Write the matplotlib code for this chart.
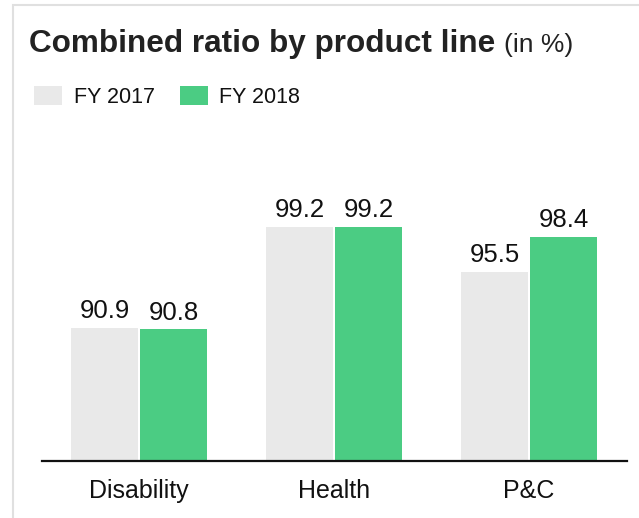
import numpy as np
import matplotlib
matplotlib.use('Agg')
import matplotlib.pyplot as plt
from matplotlib.patches import Rectangle

plt.rcParams['font.family'] = ['Liberation Sans', 'DejaVu Sans']

# data
categories = ['Disability', 'Health', 'P&C']
fy2017 = [90.9, 99.2, 95.5]
fy2018 = [90.8, 99.2, 98.4]
series_names = ['FY 2017', 'FY 2018']

gray = '#e9e9e9'
green = '#4bcc83'

W, H = 639, 518
fig = plt.figure(figsize=(W / 100, H / 100), dpi=100)

# light frame around the card (open to the right/bottom, cropped)
fig.patches.append(Rectangle((12.5 / W, -0.1), 1.2, 1 - 5.5 / H + 0.1,
                             transform=fig.transFigure, fill=False,
                             edgecolor='#e0e0e0', linewidth=1.5))

# axes placed in pixels: baseline at y=461, from x=41.5 to 626.5
ax_left, ax_right, ax_base = 41.5, 626.5, 461
px_per_unit = 12.19
ax_top = 160
ax = fig.add_axes([ax_left / W, (H - ax_base) / H,
                   (ax_right - ax_left) / W, (ax_base - ax_top) / H])
ymin = 80
ax.set_ylim(ymin, ymin + (ax_base - ax_top) / px_per_unit)
ax.set_xlim(-0.5, 2.5)

x = np.arange(len(categories))
bw = 0.345
b1 = ax.bar(x - bw / 2 - 0.005, np.array(fy2017) - ymin, bw, bottom=ymin,
            color=gray, label=series_names[0])
b2 = ax.bar(x + bw / 2 + 0.005, np.array(fy2018) - ymin, bw, bottom=ymin,
            color=green, label=series_names[1])

for bars, vals in ((b1, fy2017), (b2, fy2018)):
    for r, v in zip(bars, vals):
        ax.annotate(f'{v:.1f}', (r.get_x() + r.get_width() / 2, v),
                    xytext=(0, 7), textcoords='offset points',
                    ha='center', va='baseline', fontsize=18.5, color='#111111')

ax.set_xticks(x)
ax.set_xticklabels(categories, fontsize=18, color='#111111')
ax.tick_params(axis='x', length=0, pad=13)
ax.set_yticks([])
for s in ('top', 'left', 'right'):
    ax.spines[s].set_visible(False)
ax.spines['bottom'].set_linewidth(1.6)
ax.spines['bottom'].set_color('#111111')
ax.patch.set_alpha(0)

# title with a lighter unit suffix
t = fig.text(29 / W, 1 - 52 / H, 'Combined ratio by product line',
             fontsize=22.7, fontweight='bold', color='#222222',
             ha='left', va='baseline')
fig.canvas.draw()
bb = t.get_window_extent()
fig.text((bb.x1 + 9) / W, 1 - 52 / H, '(in %)', fontsize=19, color='#222222',
         ha='left', va='baseline')

fig.legend(handles=[b1, b2], labels=series_names, loc='upper left',
           bbox_to_anchor=(34 / W, 1 - 86 / H), ncol=2, frameon=False,
           fontsize=15.5, handlelength=1.3, handleheight=0.95,
           handletextpad=0.55, columnspacing=1.15, borderpad=0,
           borderaxespad=0, labelcolor='#111111')

fig.savefig('out.png', dpi=100)
